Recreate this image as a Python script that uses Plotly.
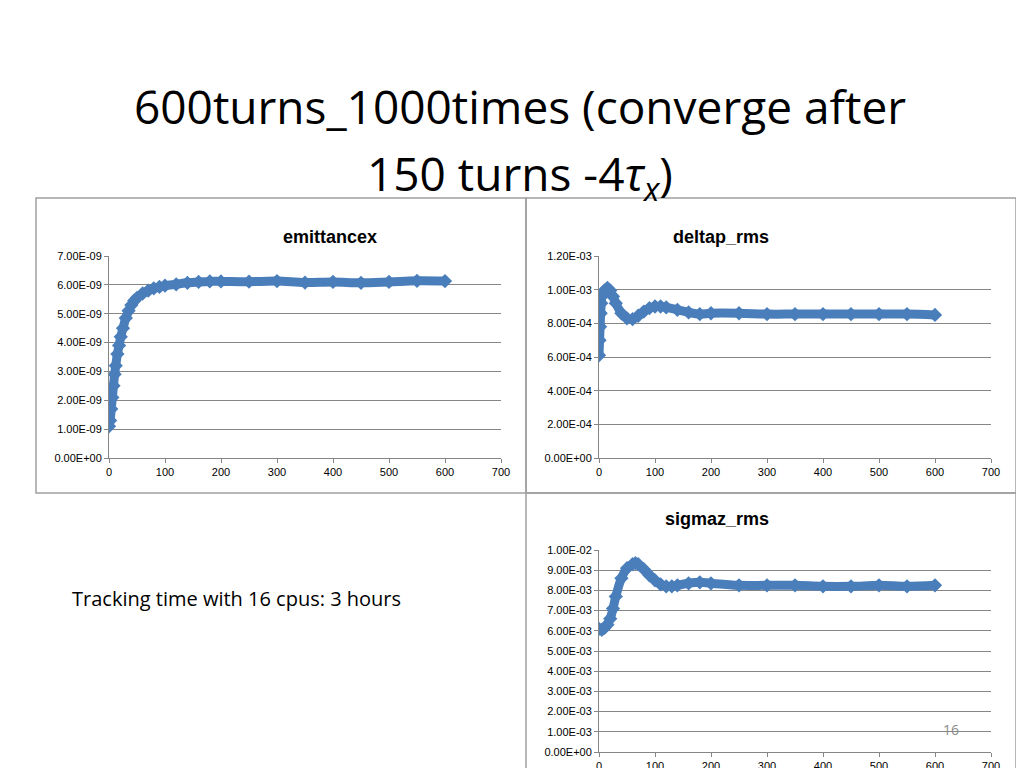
import plotly.graph_objects as go

emit_turns = [0,2,4,6,8,10,12,15,18,21,25,30,35,40,45,50,60,70,80,90,100,120,140,160,180,200,250,300,350,400,450,500,550,600]
emit_vals_e9 = [1.1,1.3,1.7,2.1,2.5,2.9,3.2,3.6,3.9,4.2,4.5,4.85,5.1,5.3,5.45,5.55,5.7,5.8,5.88,5.93,5.97,6.02,6.07,6.1,6.12,6.12,6.11,6.13,6.08,6.1,6.07,6.1,6.14,6.13]

dp_turns = [0,1,2,3,4,5,7,10,15,20,25,30,40,50,60,70,80,90,100,110,120,140,160,180,200,250,300,350,400,450,500,550,600]
dp_vals_e4 = [6.1,7.0,7.8,8.6,9.2,9.6,9.85,9.95,10.1,9.95,9.6,9.2,8.6,8.3,8.25,8.45,8.7,8.9,9.0,9.0,8.95,8.8,8.65,8.55,8.6,8.6,8.55,8.55,8.55,8.55,8.55,8.55,8.5]

sz_turns = [0,5,10,15,20,25,30,40,50,60,65,70,80,90,100,110,120,130,140,160,180,200,250,300,350,400,450,500,550,600]
sz_vals_e3 = [6.1,6.05,6.15,6.3,6.6,7.1,7.7,8.6,9.1,9.3,9.35,9.3,9.05,8.75,8.5,8.3,8.2,8.2,8.25,8.35,8.4,8.35,8.25,8.25,8.25,8.2,8.2,8.25,8.2,8.25]

x_ticks = [0,100,200,300,400,500,600,700]
emit_ticks = [i*1e-9 for i in range(8)]
emit_labels = ["0.00E+00","1.00E-09","2.00E-09","3.00E-09","4.00E-09","5.00E-09","6.00E-09","7.00E-09"]
dp_ticks = [i*2e-4 for i in range(7)]
dp_labels = ["0.00E+00","2.00E-04","4.00E-04","6.00E-04","8.00E-04","1.00E-03","1.20E-03"]
sz_ticks = [i*1e-3 for i in range(11)]
sz_labels = ["0.00E+00","1.00E-03","2.00E-03","3.00E-03","4.00E-03","5.00E-03","6.00E-03","7.00E-03","8.00E-03","9.00E-03","1.00E-02"]

BLUE = "#4A7EBB"
fig = go.Figure()

def add(x, y, xa, ya):
    fig.add_trace(go.Scatter(x=x, y=y, xaxis=xa, yaxis=ya, mode="lines+markers",
                             line=dict(color=BLUE, width=9, shape="spline"),
                             marker=dict(symbol="diamond", size=11, color=BLUE),
                             showlegend=False))

add(emit_turns, [v*1e-9 for v in emit_vals_e9], "x", "y")
add(dp_turns, [v*1e-4 for v in dp_vals_e4], "x2", "y2")
add(sz_turns, [v*1e-3 for v in sz_vals_e3], "x3", "y3")

F = "Liberation Sans, Arial, sans-serif"
def xax(dom, anchor):
    return dict(domain=dom, anchor=anchor, range=[0,700], tickvals=x_ticks, showgrid=False,
                zeroline=False, showline=True, linecolor="#868686", ticks="outside",
                ticklen=4, tickcolor="#868686", automargin=False,
                tickfont=dict(size=11, family=F, color="#000"))
def yax(dom, anchor, tv, tt, top):
    return dict(domain=dom, anchor=anchor, range=[0, top], tickvals=tv, ticktext=tt,
                showgrid=True, gridcolor="#868686", gridwidth=1, zeroline=False,
                showline=True, linecolor="#868686", ticks="outside", ticklen=4,
                tickcolor="#868686", automargin=False,
                tickfont=dict(size=11, family=F, color="#000"))

d1x = [101/1024, 493/1024]; d2x = [591/1024, 983/1024]
dtop = [1-450/768, 1-248/768]; dbot = [1-744/768, 1-542/768]

shapes = []
for x0, y0, x1, y1 in [(28,190,518,485),(518,190,1008,485),(518,485,1008,800)]:
    shapes.append(dict(type="rect", xref="paper", yref="paper", x0=x0/1024, x1=x1/1024,
                       y0=1-y1/768, y1=1-y0/768, line=dict(color="#A0A0A0", width=1.5)))

ann = [
    dict(text="600turns_1000times (converge after", x=512/1024, y=1-65/768),
    dict(text="150 turns -4<i>τ</i><sub><i>x</i></sub>)", x=512/1024, y=1-132/768),
]
annotations = [dict(text=a["text"], x=a["x"], y=a["y"], xref="paper", yref="paper",
                    showarrow=False, font=dict(size=46, family="Open Sans, sans-serif", color="#000"))
               for a in ann]
for t, x, y in [("emittancex",273,217),("deltap_rms",763,217),("sigmaz_rms",763,511)]:
    annotations.append(dict(text="<b>"+t+"</b>", x=x/1024, y=1-y/768, xref="paper", yref="paper",
                            showarrow=False, font=dict(size=18, family=F, color="#000")))
annotations.append(dict(text="Tracking time with 16 cpus: 3 hours", x=62/1024, y=1-606/768,
                        xref="paper", yref="paper", xanchor="left", showarrow=False,
                        font=dict(size=20, family="Open Sans, sans-serif", color="#000")))
annotations.append(dict(text="16", x=953/1024, y=1-733/768, xref="paper", yref="paper",
                        showarrow=False, font=dict(size=14, family="Open Sans, sans-serif", color="#8C8C8C")))

fig.update_layout(width=1024, height=768,
                  margin=dict(l=0, r=0, t=0, b=0, autoexpand=False),
                  paper_bgcolor="white", plot_bgcolor="white",
                  xaxis=xax(d1x, "y"), yaxis=yax(dtop, "x", emit_ticks, emit_labels, 7e-9),
                  xaxis2=xax(d2x, "y2"), yaxis2=yax(dtop, "x2", dp_ticks, dp_labels, 1.2e-3),
                  xaxis3=xax(d2x, "y3"), yaxis3=yax(dbot, "x3", sz_ticks, sz_labels, 1e-2),
                  shapes=shapes, annotations=annotations)
fig.write_html("out.html")
